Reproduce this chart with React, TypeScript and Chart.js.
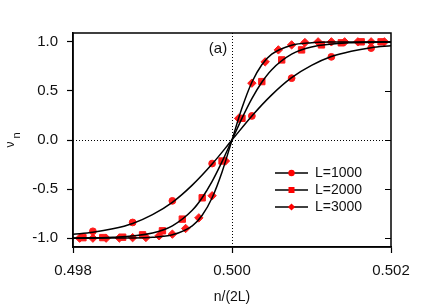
import React, { useEffect, useRef } from "react";
import { Chart, registerables } from "chart.js";

Chart.register(...registerables);

// ---- data ----
const xTickValues = [0.498, 0.5, 0.502];
const yTickValues = [-1, -0.5, 0, 0.5, 1];

const seriesNames = ["L=1000", "L=2000", "L=3000"];
const markerStyles = ["circle", "rect", "rectRot"];

// markers
const x1000 = [0.49825, 0.49875, 0.49925, 0.49975, 0.50025, 0.50075, 0.50125, 0.50175];
const v1000 = [-0.93, -0.84, -0.62, -0.24, 0.245, 0.63, 0.847, 0.936];

const x2000 = [
  0.498125, 0.498375, 0.498625, 0.498875, 0.499125, 0.499375, 0.499625, 0.499875,
  0.500125, 0.500375, 0.500625, 0.500875, 0.501125, 0.501375, 0.501625, 0.501875,
];
const v2000 = [
  -0.995, -0.994, -0.99, -0.966, -0.925, -0.806, -0.589, -0.214,
  0.221, 0.595, 0.816, 0.918, 0.969, 0.99, 1.0, 1.0,
];

const x3000 = [
  0.498083, 0.49825, 0.498417, 0.498583, 0.49875, 0.498917, 0.499083, 0.49925,
  0.499417, 0.499583, 0.49975, 0.499917, 0.500083, 0.50025, 0.500417, 0.500583,
  0.50075, 0.500917, 0.501083, 0.50125, 0.501417, 0.501583, 0.50175, 0.501917,
];
const v3000 = [
  -1.0, -1.0, -1.0, -0.998, -0.995, -0.993, -0.976, -0.959,
  -0.901, -0.793, -0.568, -0.214, 0.22, 0.579, 0.796, 0.918,
  0.969, 0.993, 1.0, 1.0, 1.0, 1.0, 1.0, 1.0,
];

// fitted curves
const cx1000 = [
  0.498, 0.49825, 0.4985, 0.49875, 0.499, 0.49925, 0.4995, 0.49975, 0.5,
  0.50025, 0.5005, 0.50075, 0.501, 0.50125, 0.5015, 0.50175, 0.502,
];
const cv1000 = [
  -0.96, -0.94, -0.905, -0.85, -0.76, -0.635, -0.46, -0.245, 0,
  0.245, 0.46, 0.635, 0.76, 0.85, 0.905, 0.94, 0.96,
];

const cx2000 = [
  0.498, 0.4985, 0.499, 0.49925, 0.4995, 0.499625, 0.49975, 0.499875, 0.5,
  0.500125, 0.50025, 0.500375, 0.5005, 0.50075, 0.501, 0.5015, 0.502,
];
const cv2000 = [
  -0.998, -0.991, -0.947, -0.874, -0.716, -0.588, -0.422, -0.221, 0,
  0.221, 0.422, 0.588, 0.716, 0.874, 0.947, 0.991, 0.998,
];

const cx3000 = [
  0.498, 0.4985, 0.49875, 0.499, 0.49925, 0.4995, 0.499625, 0.49975, 0.499875, 0.5,
  0.500125, 0.50025, 0.500375, 0.5005, 0.50075, 0.501, 0.50125, 0.5015, 0.502,
];
const cv3000 = [
  -1.0, -0.999, -0.998, -0.991, -0.966, -0.874, -0.767, -0.588, -0.325, 0,
  0.325, 0.588, 0.767, 0.874, 0.966, 0.991, 0.998, 0.999, 1.0,
];

const FONT = "'Liberation Sans', Arial, Helvetica, sans-serif";

const toPts = (xs: number[], ys: number[]) => xs.map((x, i) => ({ x, y: ys[i] }));

const extras = {
  id: "extras",
  beforeDatasetsDraw(chart: any) {
    const { ctx, chartArea: a, scales } = chart;
    const px = Math.round(scales.x.getPixelForValue(0.5)) + 0.5;
    const py = Math.round(scales.y.getPixelForValue(0)) + 0.5;
    ctx.save();
    ctx.strokeStyle = "#000";
    ctx.lineWidth = 1;
    ctx.setLineDash([1, 2]);
    ctx.beginPath();
    ctx.moveTo(px, a.top);
    ctx.lineTo(px, a.bottom);
    ctx.moveTo(a.left, py);
    ctx.lineTo(a.right, py);
    ctx.stroke();
    ctx.restore();
  },
  afterDraw(chart: any) {
    const { ctx, chartArea: a, scales } = chart;
    ctx.save();
    // frame
    ctx.strokeStyle = "#000";
    ctx.lineWidth = 1.5;
    ctx.strokeRect(a.left, a.top, a.right - a.left, a.bottom - a.top);
    // right inward ticks
    ctx.lineWidth = 1.2;
    ctx.beginPath();
    yTickValues.forEach((v) => {
      const yy = Math.round(scales.y.getPixelForValue(v)) + 0.5;
      ctx.moveTo(a.right - 6, yy);
      ctx.lineTo(a.right, yy);
    });
    ctx.stroke();

    // legend
    const rowY = [173, 190, 207];
    seriesNames.forEach((name, i) => {
      const y = rowY[i];
      ctx.strokeStyle = "#000";
      ctx.lineWidth = 1.5;
      ctx.beginPath();
      ctx.moveTo(275, y);
      ctx.lineTo(308, y);
      ctx.stroke();
      ctx.fillStyle = "#ff0000";
      ctx.beginPath();
      const mx = 291.5;
      if (markerStyles[i] === "circle") {
        ctx.arc(mx, y, 3.2, 0, Math.PI * 2);
      } else if (markerStyles[i] === "rect") {
        ctx.rect(mx - 3, y - 3, 6, 6);
      } else {
        ctx.moveTo(mx, y - 3.6);
        ctx.lineTo(mx + 3.6, y);
        ctx.lineTo(mx, y + 3.6);
        ctx.lineTo(mx - 3.6, y);
        ctx.closePath();
      }
      ctx.fill();
      ctx.fillStyle = "#111";
      ctx.font = `14px ${FONT}`;
      ctx.textAlign = "left";
      ctx.textBaseline = "middle";
      ctx.fillText(name, 315, y);
    });

    // panel label
    ctx.fillStyle = "#111";
    ctx.font = `15px ${FONT}`;
    ctx.textAlign = "center";
    ctx.textBaseline = "middle";
    ctx.fillText("(a)", 218, 49);

    // y title: nu with subscript n, rotated
    ctx.textBaseline = "alphabetic";
    ctx.save();
    ctx.translate(13.5, 144.5);
    ctx.rotate(-Math.PI / 2);
    ctx.font = `12px ${FONT}`;
    ctx.fillText("\u03bd", 0, 0);
    ctx.restore();
    ctx.save();
    ctx.translate(19.5, 135.5);
    ctx.rotate(-Math.PI / 2);
    ctx.font = `11px ${FONT}`;
    ctx.fillText("n", 0, 0);
    ctx.restore();

    ctx.restore();
  },
};

export default function App() {
  const ref = useRef<HTMLCanvasElement | null>(null);

  useEffect(() => {
    if (!ref.current) return;
    const lineDs = (xs: number[], ys: number[], label: string) => ({
      label,
      data: toPts(xs, ys),
      showLine: true,
      borderColor: "#000",
      borderWidth: 1.5,
      pointRadius: 0,
      cubicInterpolationMode: "monotone" as const,
      order: 1,
    });
    const markDs = (xs: number[], ys: number[], label: string, style: string, r: number) => ({
      label,
      data: toPts(xs, ys),
      showLine: false,
      pointStyle: style,
      pointRadius: r,
      pointBackgroundColor: "#ff1a1a",
      pointBorderColor: "#ff1a1a",
      pointBorderWidth: 1,
      order: 2,
    });

    const chart = new Chart(ref.current, {
      type: "scatter",
      data: {
        datasets: [
          markDs(x1000, v1000, seriesNames[0], markerStyles[0], 3.4),
          markDs(x2000, v2000, seriesNames[1], markerStyles[1], 4.5),
          markDs(x3000, v3000, seriesNames[2], markerStyles[2], 4.2),
          lineDs(cx1000, cv1000, seriesNames[0] + " fit"),
          lineDs(cx2000, cv2000, seriesNames[1] + " fit"),
          lineDs(cx3000, cv3000, seriesNames[2] + " fit"),
        ] as any,
      },
      options: {
        responsive: false,
        animation: false,
        devicePixelRatio: 1,
        layout: { padding: { left: 0, top: 33, right: 45, bottom: 0 } },
        plugins: {
          legend: { display: false },
          tooltip: { enabled: false },
        },
        scales: {
          x: {
            type: "linear",
            min: 0.498,
            max: 0.502,
            afterBuildTicks: (s: any) => {
              s.ticks = xTickValues.map((v) => ({ value: v }));
            },
            afterFit: (s: any) => {
              s.height = 59;
            },
            ticks: {
              padding: 9,
              color: "#111",
              font: { family: FONT, size: 15 },
              callback: (v: any) => Number(v).toFixed(3),
            },
            grid: {
              drawOnChartArea: false,
              drawTicks: true,
              tickLength: 6,
              tickColor: "#000",
              tickWidth: 1.2,
            },
            border: { display: true, color: "#000", width: 1.5 },
            title: {
              display: true,
              text: "n/(2L)",
              color: "#111",
              font: { family: FONT, size: 14 },
              padding: { top: 0, bottom: 0 },
            },
          },
          y: {
            type: "linear",
            min: -1.09,
            max: 1.09,
            afterBuildTicks: (s: any) => {
              s.ticks = yTickValues.map((v) => ({ value: v }));
            },
            afterFit: (s: any) => {
              s.width = 73;
            },
            ticks: {
              padding: 9,
              color: "#111",
              font: { family: FONT, size: 15 },
              callback: (v: any) => Number(v).toFixed(1),
            },
            grid: {
              drawOnChartArea: false,
              drawTicks: true,
              tickLength: 6,
              tickColor: "#000",
              tickWidth: 1.2,
            },
            border: { display: true, color: "#000", width: 1.5 },
          },
        },
      },
      plugins: [extras],
    });
    return () => chart.destroy();
  }, []);

  return (
    <div style={{ position: "absolute", left: 0, top: 0, width: 436, height: 306, background: "#fff" }}>
      <canvas ref={ref} width={436} height={306} style={{ width: 436, height: 306 }} />
    </div>
  );
}
